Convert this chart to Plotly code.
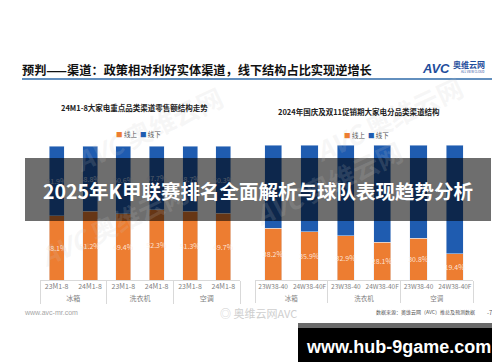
import plotly.graph_objects as go

# ---------------- data ----------------
groups = ["冰箱", "冰箱", "洗衣机", "洗衣机", "空调", "空调"]
left_periods = ["23M1-8", "24M1-8", "23M1-8", "24M1-8", "23M1-8", "24M1-8"]
left_online = [48.1, 51.2, 49.4, 52.3, 51.3, 49.7]
left_offline = [51.9, 48.8, 50.6, 47.7, 48.7, 50.3]

right_periods = ["23W38-40", "24W38-40F", "23W38-40", "24W38-40F", "23W38-40", "24W38-40F"]
right_online = [38.2, 35.9, 32.9, 28.1, 30.8, 19.4]
right_offline = [61.8, 64.1, 67.1, 71.9, 69.2, 80.6]

series_names = ["线上", "线下"]
ORANGE = "#ED7D31"
BLUE = "#1F5CB0"
FONT = "Noto Sans CJK SC"

W, H = 500, 362


def px(x):
    return x / W


def py(y):
    return 1 - y / H


fig = go.Figure()

lx = [groups, left_periods]
rx = [groups, right_periods]

fig.add_trace(go.Bar(x=lx, y=left_online, name=series_names[0], marker_color=ORANGE,
                     width=0.45, text=[f"{v}%" for v in left_online], textposition="inside",
                     insidetextanchor="middle", textangle=0,
                     textfont=dict(color="rgba(255,240,230,0.9)", size=7, family=FONT),
                     xaxis="x", yaxis="y", showlegend=False))
fig.add_trace(go.Bar(x=lx, y=left_offline, name=series_names[1], marker_color=BLUE,
                     width=0.45, text=[f"{v}%" for v in left_offline], textposition="inside",
                     insidetextanchor="middle", textangle=0,
                     textfont=dict(color="rgba(230,240,255,0.8)", size=7, family=FONT),
                     xaxis="x", yaxis="y", showlegend=False))
fig.add_trace(go.Bar(x=rx, y=right_online, name=series_names[0], marker_color=ORANGE,
                     width=0.47, text=[f"{v}%" for v in right_online], textposition="inside",
                     insidetextanchor="middle", textangle=0,
                     textfont=dict(color="rgba(255,240,230,0.9)", size=7, family=FONT),
                     xaxis="x2", yaxis="y2", showlegend=False))
fig.add_trace(go.Bar(x=rx, y=right_offline, name=series_names[1], marker_color=BLUE,
                     width=0.47, xaxis="x2", yaxis="y2", showlegend=False))

axis_x = dict(type="multicategory", showline=True, linecolor="#d9d9d9", linewidth=1,
              tickfont=dict(size=7, color="#7f7f7f", family=FONT), tickangle=0,
              showdividers=True, dividercolor="#d9d9d9", dividerwidth=1,
              ticks="", showgrid=False, zeroline=False, fixedrange=True)

fig.update_layout(
    width=W, height=H,
    margin=dict(l=0, r=0, t=0, b=0),
    paper_bgcolor="white", plot_bgcolor="white",
    barmode="stack",
    uniformtext=dict(minsize=7, mode="show"),
    font=dict(family=FONT),
    xaxis=dict(axis_x, domain=[px(32), px(232)], anchor="y"),
    yaxis=dict(domain=[py(272), py(138)], range=[0, 100], visible=False, fixedrange=True),
    xaxis2=dict(axis_x, domain=[px(247), px(465)], anchor="y2",
                tickfont=dict(size=6.5, color="#7f7f7f", family=FONT)),
    yaxis2=dict(domain=[py(272), py(137)], range=[0, 100], visible=False, fixedrange=True),
)

ann = []


def text(x, y, s, size, color="#000", xanchor="center", bold=False, family=FONT, **kw):
    ann.append(dict(x=px(x), y=py(y), xref="paper", yref="paper", text=(f"<b>{s}</b>" if bold else s),
                    showarrow=False, xanchor=xanchor, yanchor="middle", borderpad=0,
                    font=dict(size=size, color=color, family=family), **kw))


# watermarks (faint)
for (wx, wy) in [(105, 215), (320, 175), (140, 120), (380, 110)]:
    text(wx, wy, "<i>AVC</i> 奥维云网", 26, color="rgba(200,200,200,0.16)", bold=True, textangle=-25)

# header
text(13, 62, "预判——渠道：政策相对利好实体渠道，线下结构占比实现逆增长", 12.2, "#111", xanchor="left", bold=True)
text(413, 60, "<i>AVC</i>", 13, "#1f4e9c", xanchor="left", bold=True, family="Arial")
text(444, 57, "奥维云网", 8, "#1f4e9c", xanchor="left", bold=True)
text(452, 64, "ALL VIEW CLOUD", 3, "#1f4e9c", xanchor="left")

# subplot titles
text(126, 100, "24M1-8大家电重点品类渠道零售额结构走势", 7.5, "#222", bold=True)
text(351, 103, "2024年国庆及双11促销期大家电分品类渠道结构", 7.5, "#222", bold=True)

# legends
leg = (f"<span style='color:{ORANGE}'>■</span> {series_names[0]}  "
       f"<span style='color:{BLUE}'>■</span> {series_names[1]}")
text(130, 126, leg, 6.5, "#595959")
text(358, 127, leg, 6.5, "#595959")

# footer
text(15, 304, "www.avc-mr.com", 7, "#a6a6a6", xanchor="left", family="Arial")
text(250, 305, "◎ 奥维云网AVC", 11, "#cfcfcf")
text(468, 304, "数据来源：奥维云网（AVC）推总及预测数据", 5, "#555", xanchor="right")
text(483, 304, "-7-", 6, "#555")

# overlay banner text
text(250, 182, "2025年K甲联赛排名全面解析与球队表现趋势分析", 19.5, "white", bold=True)
text(390, 339, "www.hub-9game.com", 18, "white", bold=True, family="Liberation Sans")

fig.update_layout(annotations=ann)

shapes = [
    dict(type="line", xref="paper", yref="paper", x0=px(14), x1=px(487), y0=py(71), y1=py(71),
         line=dict(color="#2e6aa8", width=1.5)),
    dict(type="rect", xref="paper", yref="paper", x0=px(17), x1=px(483), y0=py(213), y1=py(150),
         fillcolor="rgba(0,0,0,0.57)", line=dict(width=0), layer="above"),
    dict(type="rect", xref="paper", yref="paper", x0=px(290), x1=px(491), y0=py(362), y1=py(315),
         fillcolor="black", line=dict(width=0), layer="above"),
    dict(type="rect", xref="paper", yref="paper", x0=px(290), x1=px(491), y0=py(320), y1=py(315),
         fillcolor="#6a6a6a", line=dict(width=0), layer="above"),
]
fig.update_layout(shapes=shapes)

fig.write_html("out.html")
